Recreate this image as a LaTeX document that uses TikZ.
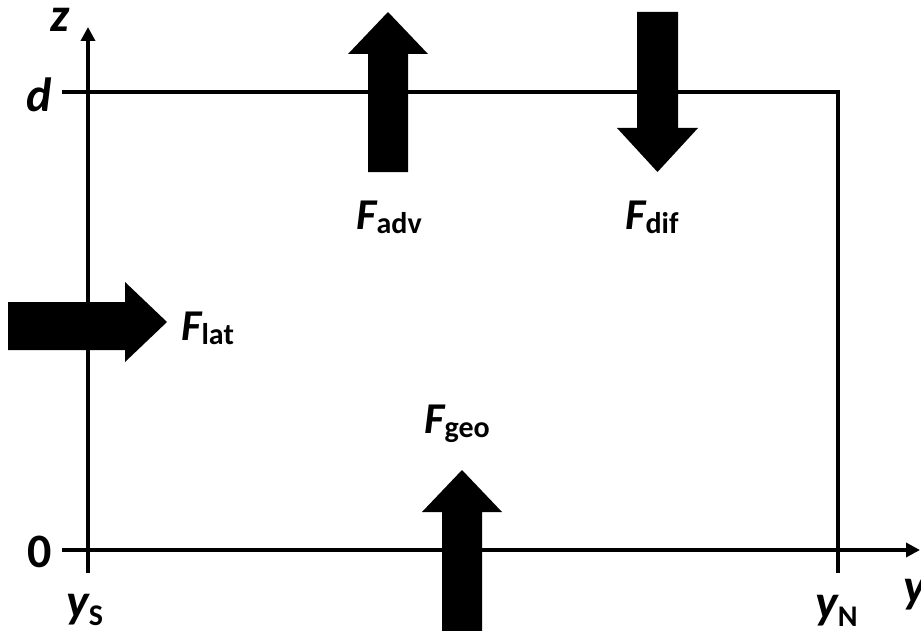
\documentclass[tikz,border=0pt]{standalone}
\usepackage{fontspec}
\setmainfont{Carlito}
\usetikzlibrary{arrows.meta}

\tikzset{
  axis/.style={line width=2pt, -{Triangle[width=7pt,length=7pt]}},
  frame/.style={line width=2pt},
  blockarrow/.style={fill=black, draw=none},
  axlabel/.style={inner sep=0pt, anchor=base west, font=\fontsize{24}{24}\selectfont\bfseries\itshape},
  numlabel/.style={inner sep=0pt, anchor=base west, font=\fontsize{24}{24}\selectfont\bfseries},
  fluxlabel/.style={inner sep=0pt, anchor=base west, font=\fontsize{22}{22}\selectfont\bfseries\itshape},
}
% subscripts in upright bold, set a little below the baseline
\newcommand{\flxsub}[1]{\raisebox{-2.2pt}{\upshape\fontsize{15}{15}\selectfont #1}}
\newcommand{\axsub}[1]{\raisebox{-4pt}{\upshape\fontsize{15}{15}\selectfont #1}}

\begin{document}
\begin{tikzpicture}[x=0.5pt, y=-0.5pt]
  \useasboundingbox (0,0) rectangle (921,631);
  \clip (0,0) rectangle (921,631);

  % corner coordinates of the domain
  \coordinate (zbot) at (88,573);
  \coordinate (ztop) at (88,27);
  \coordinate (ystart) at (62,550);
  \coordinate (yend) at (920,550);
  \coordinate (dstart) at (62,92);
  \coordinate (dend) at (838,92);
  \coordinate (nbot) at (838,573);

  % axes
  \draw[axis] (zbot) -- (ztop);
  \draw[axis] (ystart) -- (yend);
  % top boundary and northern boundary
  \draw[frame, line join=miter] (dstart) -- (dend) -- (nbot);

  % axis labels
  \node[axlabel] (zlab) at (50,32) {z};
  \node[axlabel] (dlab) at (26,112) {d};
  \node[numlabel] (zero) at (27,567) {0};
  \node[axlabel] (ys) at (66,617) {y\axsub{S}};
  \node[axlabel] (yn) at (815,618) {y\axsub{N}};
  \node[axlabel] (ylab) at (903,602) {y};

  % advective flux (upward, across z = d)
  \fill[blockarrow] (368,172) -- (368,54) -- (348,54) -- (388,12) -- (428,54)
                    -- (408,54) -- (408,172) -- cycle;
  % diffusive flux (downward, across z = d)
  \fill[blockarrow] (637,12) -- (637,128) -- (617,128) -- (657.5,172) -- (698,128)
                    -- (678,128) -- (678,12) -- cycle;
  % lateral flux (across the southern boundary)
  \fill[blockarrow] (8,302) -- (125,302) -- (125,282) -- (167,322) -- (125,362)
                    -- (125,350) -- (8,350) -- cycle;
  % geothermal flux (through the bottom)
  \fill[blockarrow] (442,640) -- (442,512) -- (422,512) -- (462,470) -- (502,512)
                    -- (482,512) -- (482,640) -- cycle;

  % flux labels
  \node[fluxlabel] (fadv) at (356,229) {F\flxsub{adv}};
  \node[fluxlabel] (fdif) at (625,229) {F\flxsub{dif}};
  \node[fluxlabel] (flat) at (181,340) {F\flxsub{lat}};
  \node[fluxlabel] (fgeo) at (424,433) {F\flxsub{geo}};
\end{tikzpicture}
\end{document}
